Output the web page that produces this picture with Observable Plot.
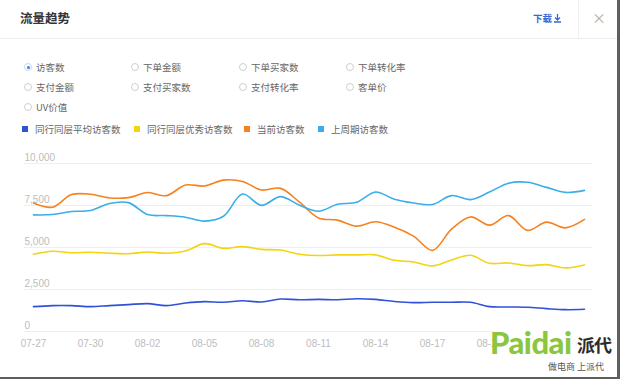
<!DOCTYPE html>
<html><head><meta charset="utf-8">
<script src="https://cdn.jsdelivr.net/npm/d3@7"></script>
<script src="https://cdn.jsdelivr.net/npm/@observablehq/plot@0.6"></script>
<style>
html,body{margin:0;padding:0;background:#5e5e5e;}
#page{position:relative;width:617px;height:377px;background:#fff;overflow:hidden;font-family:"Noto Sans CJK SC","Noto Sans",sans-serif;}
.abs{position:absolute;white-space:nowrap;}
.opt{font-size:9.5px;line-height:12px;color:#666;}
.radio{position:absolute;width:8px;height:8px;border:1px solid #cfcfcf;border-radius:50%;box-sizing:border-box;}
.radio.on::after{content:"";position:absolute;left:1.5px;top:1.5px;width:3px;height:3px;border-radius:50%;background:#3b7be0;}
.sq{position:absolute;width:6px;height:6px;}
#chart{position:absolute;left:0;top:140px;}
</style>
</head><body>
<div id="page">
  <div class="abs" style="left:20px;top:10px;font-size:12.5px;line-height:16px;font-weight:bold;color:#333;">流量趋势</div>
  <div class="abs" style="left:533px;top:12px;font-size:9.5px;line-height:12px;font-weight:bold;color:#3567d6;">下载</div>
  <svg class="abs" style="left:553px;top:13px;" width="9" height="10" viewBox="0 0 9 10"><path d="M4.5 1 V7 M2 4.5 L4.5 7 L7 4.5 M1 9 H8" stroke="#3567d6" stroke-width="1.3" fill="none"/></svg>
  <div class="abs" style="left:578px;top:0;width:1px;height:38px;background:#f0f0f0;"></div>
  <div class="abs" style="left:592px;top:9px;font-size:14px;line-height:16px;color:#b0b0b0;">×</div>
  <div class="abs" style="left:0;top:38px;width:617px;height:1px;background:#eeeeee;"></div>
  <div id="opts"></div>
  <div id="legend"></div>
  <div id="chart"></div>
  <div class="abs" style="left:494px;top:326px;width:120px;height:48px;background:rgba(255,255,255,0.85);"></div>
  <div class="abs" style="left:490px;top:325px;font-family:Lato,'Liberation Sans',sans-serif;font-weight:900;font-size:31px;line-height:34px;color:#8cc63f;letter-spacing:-0.5px;">Paidai</div>
  <div class="abs" style="left:577px;top:333px;font-size:18px;line-height:22px;font-weight:bold;color:#2b2b2b;letter-spacing:-1px;">派代</div>
  <div class="abs" style="left:548px;top:361px;font-size:9px;line-height:11px;color:#555;">做电商 上派代</div>
</div>
<script>
const dates = ["07-27","07-28","07-29","07-30","07-31","08-01","08-02","08-03","08-04","08-05","08-06","08-07","08-08","08-09","08-10","08-11","08-12","08-13","08-14","08-15","08-16","08-17","08-18","08-19","08-20","08-21","08-22","08-23","08-24","08-25"];
const xTickLabels = ["07-27","07-30","08-02","08-05","08-08","08-11","08-14","08-17","08-20","08-23","08-25"];
const yTickValues = [0, 2500, 5000, 7500, 10000];
const seriesNames = ["同行同层平均访客数","同行同层优秀访客数","当前访客数","上周期访客数"];
const seriesColors = ["#2f52d8","#f2d40f","#f5821f","#3aaee9"];
const avgVisitors = [1480,1540,1540,1480,1540,1600,1660,1540,1700,1780,1740,1830,1760,1930,1890,1910,1890,1950,1910,1790,1720,1740,1740,1740,1480,1460,1440,1360,1300,1320];
const excellentVisitors = [4600,4780,4690,4720,4660,4630,4730,4660,4790,5230,4950,5050,4890,4850,4600,4520,4560,4560,4560,4240,4140,3910,4260,4540,4060,4080,3920,3980,3790,3960];
const currentVisitors = [7650,7400,8150,8170,7950,7970,8270,8090,8720,8660,9010,8930,8420,8520,7700,6760,6630,6270,6530,6210,5680,4830,6090,6820,6330,6900,6020,6510,6170,6670];
const prevVisitors = [6940,6960,7140,7200,7620,7670,6960,6900,6800,6570,6860,8180,7510,8030,7520,7160,7570,7690,8300,7870,7650,7560,8090,7850,8300,8830,8880,8580,8280,8400];
const radioOptions = ["访客数","下单金额","下单买家数","下单转化率","支付金额","支付买家数","支付转化率","客单价","UV价值"];

// options
const opts = document.getElementById("opts");
const colX = [28, 135, 243, 350], rowY = [67, 87, 107];
radioOptions.forEach((name, i) => {
  const cx = colX[i % 4], cy = rowY[Math.floor(i / 4)];
  const r = document.createElement("div");
  r.className = "radio" + (i === 0 ? " on" : "");
  r.style.left = (cx - 4) + "px"; r.style.top = (cy - 4) + "px";
  if (i === 0) r.style.borderColor = "#c9d6f0";
  opts.appendChild(r);
  const t = document.createElement("div");
  t.className = "abs opt"; t.textContent = name;
  t.style.left = (cx + 8) + "px"; t.style.top = (cy - 6) + "px";
  opts.appendChild(t);
});
// legend
const legend = document.getElementById("legend");
const legX = [25, 137, 247, 321];
seriesNames.forEach((name, i) => {
  const s = document.createElement("div");
  s.className = "sq"; s.style.background = seriesColors[i];
  s.style.left = (legX[i] - 3) + "px"; s.style.top = "126px";
  legend.appendChild(s);
  const t = document.createElement("div");
  t.className = "abs opt"; t.textContent = name;
  t.style.left = (legX[i] + 10) + "px"; t.style.top = "123px";
  legend.appendChild(t);
});

const seriesValues = [avgVisitors, excellentVisitors, currentVisitors, prevVisitors];
const rows = seriesNames.flatMap((s, k) => dates.map((d, i) => ({series: s, date: d, value: seriesValues[k][i]})));

const chart = Plot.plot({
  width: 617, height: 220,
  marginTop: 23, marginBottom: 29, marginLeft: 33, marginRight: 33,
  x: {type: "point", domain: dates, padding: 0},
  y: {domain: [0, 10000]},
  color: {domain: seriesNames, range: seriesColors},
  style: {fontFamily: "'Liberation Sans','Noto Sans',sans-serif", fontSize: "10px", background: "transparent", overflow: "visible"},
  marks: [
    Plot.ruleY(yTickValues, {stroke: "#eeeeee", strokeWidth: 1, insetLeft: -9, insetRight: -8}),
    Plot.axisY({ticks: yTickValues, tickSize: 0, tickPadding: 0, textAnchor: "start", dx: -9, dy: -6, tickFormat: d3.format(","), label: null, fill: "#bdbdbd"}),
    Plot.axisX({ticks: xTickLabels, tickSize: 0, tickPadding: 8, label: null, fill: "#bdbdbd"}),
    Plot.line(rows, {x: "date", y: "value", z: "series", stroke: "series", curve: "catmull-rom", strokeWidth: 1.6})
  ]
});
document.getElementById("chart").appendChild(chart);
</script>
</body></html>
